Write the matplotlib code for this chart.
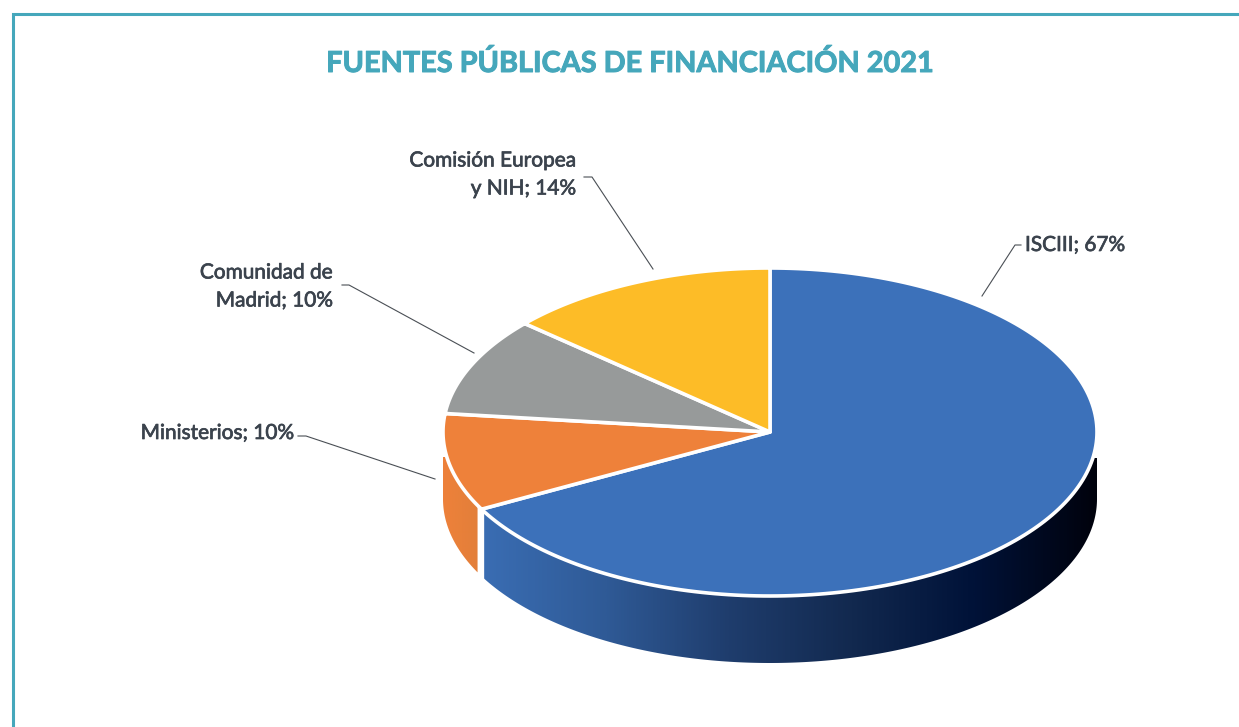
import numpy as np
import matplotlib
matplotlib.use('Agg')
import matplotlib.pyplot as plt
import matplotlib.patheffects as pe
from matplotlib.colors import LinearSegmentedColormap
from matplotlib.patches import Polygon, Rectangle

categories = ['ISCIII', 'Ministerios', 'Comunidad de Madrid', 'Comisión Europea y NIH']
shares = [67.2, 9.6, 9.7, 13.5]
colors = ['#3c71ba', '#ee813a', '#979a9a', '#fdbc27']
labels = ['ISCIII; 67%', 'Ministerios; 10%', 'Comunidad de\nMadrid; 10%', 'Comisión Europea\ny NIH; 14%']

# layout in pixels
cx, cy, rx, ry, depth = 770, 432, 327, 164, 67
teal = '#45a7bb'
text_color = '#3b434d'
font = 'Lato'

fig = plt.figure(figsize=(12.39, 7.27), dpi=100)
ax = fig.add_axes([0, 0, 1, 1])


def arc(a0, a1, dy=0):
    t = np.radians(np.linspace(a0, a1, 200))
    return np.column_stack([cx + rx * np.cos(t), cy + dy - ry * np.sin(t)])


def side(a0, a1, cmap, x0, x1):
    # wall of the disc below the top face, filled with a horizontal gradient
    pts = np.vstack([arc(a0, a1), arc(a1, a0, depth)])
    patch = Polygon(pts, closed=True, fc='none', ec='none')
    ax.add_patch(patch)
    grad = np.linspace(0, 1, 512).reshape(1, -1)
    im = ax.imshow(grad, cmap=cmap, extent=[x0, x1, cy + 300, cy - 100], aspect='auto', zorder=1)
    im.set_clip_path(patch)


# slice angles go clockwise from the top
edges = 90 - np.cumsum([0] + shares) * 3.6

blue_side = LinearSegmentedColormap.from_list('b', ['#3a6dB3', '#2f5a96', '#1f3d6d', '#12294f', '#001238', '#00020c'])
orange_side = LinearSegmentedColormap.from_list('o', ['#ee813a', '#e27f3a'])
side(0, edges[1] - 0.3, blue_side, 482, 1098)
side(edges[1] - 1.5, -180, orange_side, 442, 481)

# white gap between the walls, and the walls start below the widest point
ax.plot([481.5, 481.5], [cy + 80, cy + 148], color='white', lw=2.4, zorder=2)
ax.add_patch(Rectangle((1085, 425), 20, 33, fc='white', ec='none', zorder=2))
ax.add_patch(Rectangle((435, 425), 15, 32, fc='white', ec='none', zorder=2))

# top face
for i in range(len(shares)):
    pts = np.vstack([[cx, cy], arc(edges[i], edges[i + 1])])
    ax.add_patch(Polygon(pts, closed=True, fc=colors[i], ec='white', lw=2.6, joinstyle='round', zorder=3))

# leader lines
leaders = [
    [(1021, 245), (1015, 245), (982, 296)],
    [(298, 436), (306, 436), (435, 479)],
    [(342, 285), (349, 285), (474, 353)],
    [(584, 177), (592, 177), (653, 269)],
]
for line in leaders:
    xs, ys = zip(*line)
    ax.plot(xs, ys, color='#4a4f55', lw=0.8, zorder=4)

# labels, thickened a little because the reference face is heavier
label_pos = [(1025, 245, 'left'), (294, 433, 'right'), (333, 286.5, 'right'), (576, 174.5, 'right')]
for text, (x, y, ha) in zip(labels, label_pos):
    t = ax.text(x, y, text, ha=ha, va='center', fontsize=15, color=text_color,
                family=font, linespacing=1.5, zorder=5)
    t.set_path_effects([pe.withStroke(linewidth=0.5, foreground=text_color)])

title = ax.text(630.5, 63.5, 'FUENTES PÚBLICAS DE FINANCIACIÓN 2021', ha='center', va='center',
                fontsize=20.8, fontweight='bold', color=teal, family=font)
title.set_path_effects([pe.withStroke(linewidth=0.7, foreground=teal)])

# frame
ax.plot([13, 13, 1239], [727, 14, 14], color=teal, lw=2.2, solid_joinstyle='miter')

ax.set_xlim(0, 1239)
ax.set_ylim(727, 0)
ax.axis('off')

fig.savefig('out.png', dpi=100)
